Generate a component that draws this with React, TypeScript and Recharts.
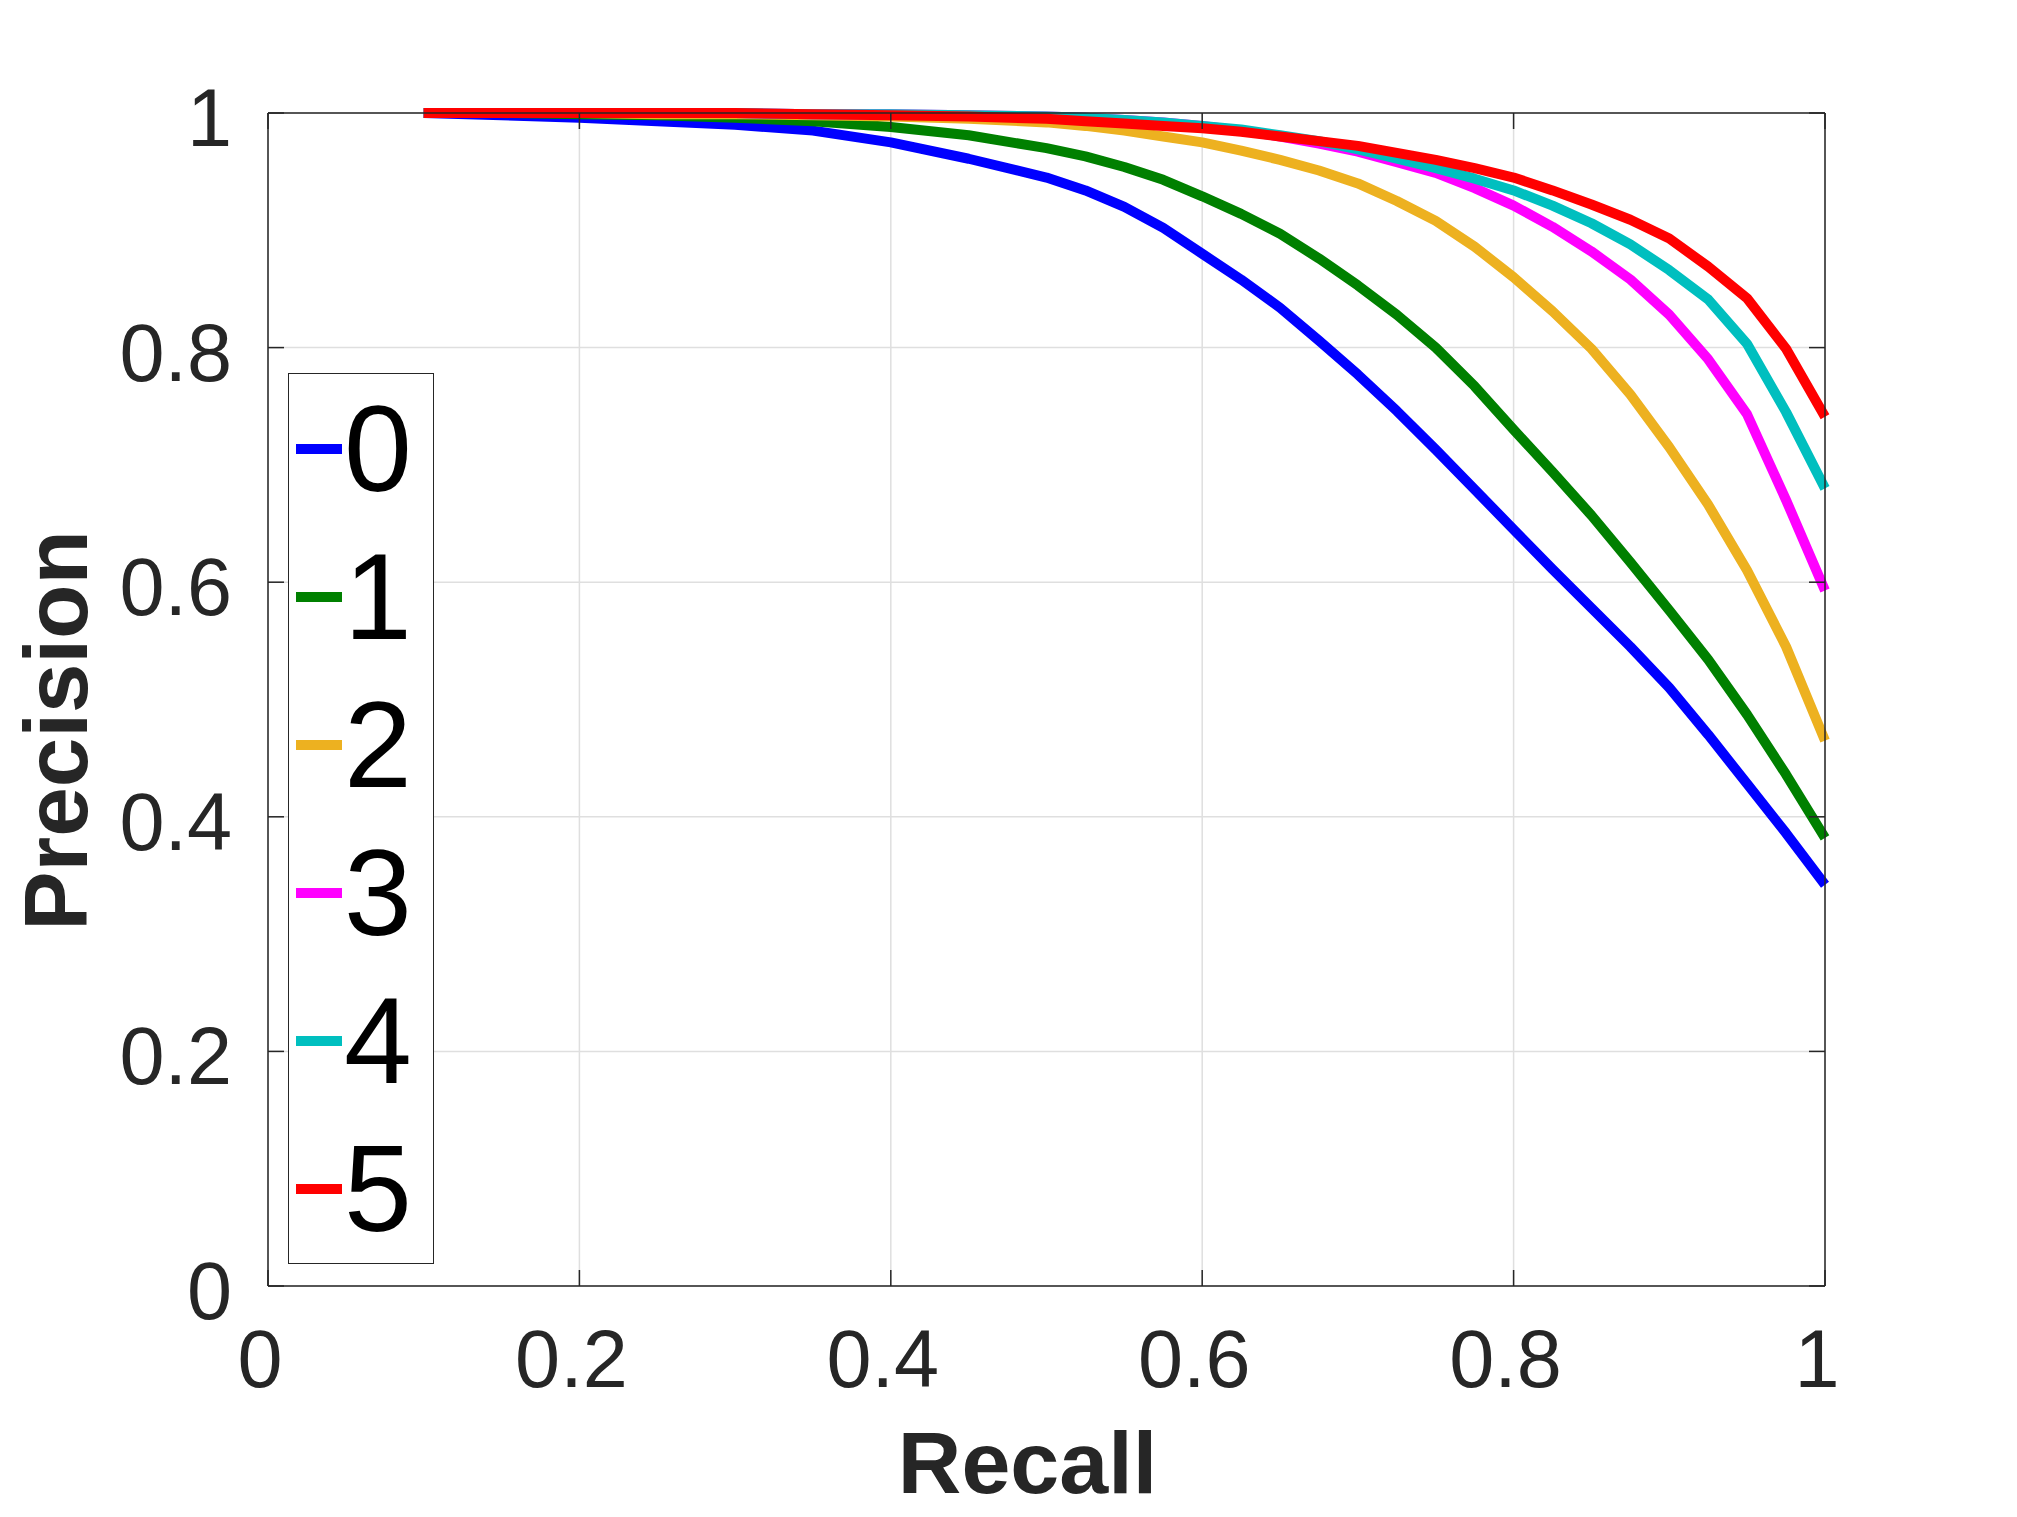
import React from "react";
import { CartesianGrid, Label, Legend, Line, LineChart, XAxis, YAxis } from "recharts";

// precision–recall curves, one per level
const recall = [
  0.1, 0.15, 0.2, 0.25, 0.3, 0.35, 0.4, 0.45, 0.5, 0.525, 0.55, 0.575, 0.6, 0.625, 0.65, 0.675, 0.7, 0.725, 0.75, 0.775,
  0.8, 0.825, 0.85, 0.875, 0.9, 0.925, 0.95, 0.975, 1.0,
];
const precision0 = [
  1.0, 0.998, 0.996, 0.993, 0.99, 0.985, 0.975, 0.961, 0.945, 0.934, 0.92, 0.902, 0.88, 0.858, 0.834, 0.806, 0.777, 0.746,
  0.713, 0.679, 0.645, 0.611, 0.578, 0.545, 0.51, 0.47, 0.428, 0.386, 0.342,
];
const precision1 = [
  1.0, 1.0, 0.999, 0.998, 0.996, 0.993, 0.988, 0.981, 0.97, 0.963, 0.954, 0.943, 0.929, 0.914, 0.897, 0.876, 0.853, 0.828,
  0.8, 0.767, 0.73, 0.694, 0.657, 0.617, 0.576, 0.534, 0.487, 0.436, 0.382,
];
const precision2 = [
  1.0, 1.0, 1.0, 0.999, 0.999, 0.998, 0.997, 0.995, 0.992, 0.989, 0.985, 0.98, 0.975, 0.968, 0.96, 0.951, 0.94, 0.925,
  0.908, 0.886, 0.86, 0.831, 0.799, 0.76, 0.715, 0.666, 0.61, 0.545, 0.465,
];
const precision3 = [
  1.0, 1.0, 1.0, 1.0, 1.0, 0.999, 0.999, 0.998, 0.997, 0.996, 0.994, 0.992, 0.989, 0.985, 0.98, 0.974, 0.967, 0.958,
  0.949, 0.936, 0.921, 0.903, 0.882, 0.858, 0.828, 0.79, 0.743, 0.67, 0.593,
];
const precision4 = [
  1.0, 1.0, 1.0, 1.0, 1.0, 0.999, 0.999, 0.998, 0.997, 0.996, 0.994, 0.992, 0.989, 0.986, 0.981, 0.976, 0.969, 0.961,
  0.953, 0.944, 0.934, 0.921, 0.906, 0.888, 0.866, 0.841, 0.803, 0.745, 0.68,
];
const precision5 = [
  1.0, 1.0, 1.0, 1.0, 1.0, 0.999, 0.998, 0.997, 0.995, 0.993, 0.991, 0.989, 0.987, 0.984, 0.98, 0.976, 0.972, 0.966,
  0.96, 0.953, 0.945, 0.934, 0.922, 0.909, 0.893, 0.869, 0.842, 0.799, 0.741,
];

const seriesNames = ["0", "1", "2", "3", "4", "5"];
const seriesColors = ["#0000FF", "#008000", "#EDB120", "#FF00FF", "#00BFBF", "#FF0000"];
const axisTicks = [0, 0.2, 0.4, 0.6, 0.8, 1];

const allPrecision = [precision0, precision1, precision2, precision3, precision4, precision5];
const rows = recall.map((r, i) => {
  const row: Record<string, number> = { recall: r };
  allPrecision.forEach((p, k) => {
    row[`p${k}`] = p[i];
  });
  return row;
});

const FONT = '"Liberation Sans", Arial, Helvetica, sans-serif';
const AXIS = "#262626";
const TICK_LEN = 16;

type Side = "left" | "right" | "top" | "bottom";

// inward tick marks on every side, labels only on left/bottom
function makeTick(side: Side, withLabel: boolean) {
  return (props: any) => {
    const { x, y, payload } = props;
    let x2 = x;
    let y2 = y;
    if (side === "left") x2 = x + TICK_LEN;
    if (side === "right") x2 = x - TICK_LEN;
    if (side === "bottom") y2 = y - TICK_LEN;
    if (side === "top") y2 = y + TICK_LEN;
    const label = String(payload.value);
    return (
      <g>
        <line x1={x} y1={y} x2={x2} y2={y2} stroke={AXIS} strokeWidth={1.5} />
        {withLabel && side === "left" && (
          <text x={x - 36} y={y + 33} textAnchor="end" fontSize={81} fill={AXIS} fontFamily={FONT}>
            {label}
          </text>
        )}
        {withLabel && side === "bottom" && (
          <text x={x - 8} y={y + 101} textAnchor="middle" fontSize={81} fill={AXIS} fontFamily={FONT}>
            {label}
          </text>
        )}
      </g>
    );
  };
}

function LegendBox(props: any) {
  const items = [...(props.payload || [])].sort((a: any, b: any) => String(a.value).localeCompare(String(b.value)));
  return (
    <div
      style={{
        width: 146,
        height: 891,
        boxSizing: "border-box",
        border: `1.5px solid ${AXIS}`,
        background: "#fff",
        paddingTop: 1,
        fontFamily: FONT,
      }}
    >
      {items.map((item: any) => (
        <div key={item.value} style={{ height: 148, display: "flex", alignItems: "center" }}>
          <div style={{ marginLeft: 7, width: 46, height: 10, background: item.color }} />
          <span style={{ marginLeft: 2, fontSize: 122, lineHeight: 1, color: "#000" }}>{item.value}</span>
        </div>
      ))}
    </div>
  );
}

export default function App() {
  return (
    <div style={{ position: "relative", width: 2000, height: 1500, fontFamily: FONT }}>
      <LineChart width={2000} height={1500} data={rows} margin={{ top: 0, right: 0, bottom: 0, left: 0 }}>
        <CartesianGrid stroke="#dfdfdf" strokeWidth={1.5} />
        <XAxis
          type="number"
          dataKey="recall"
          domain={[0, 1]}
          ticks={axisTicks}
          height={222}
          tickSize={0}
          tickMargin={0}
          axisLine={{ stroke: AXIS, strokeWidth: 1.5 }}
          tickLine={false}
          tick={makeTick("bottom", true)}
          interval={0}
        >
          <Label
            content={({ viewBox }: any) => (
              <text
                x={viewBox.x + viewBox.width / 2 - 19}
                y={viewBox.y + 207}
                textAnchor="middle"
                fontSize={88}
                fontWeight="bold"
                fill={AXIS}
                fontFamily={FONT}
              >
                Recall
              </text>
            )}
          />
        </XAxis>
        <XAxis
          xAxisId="top"
          orientation="top"
          type="number"
          dataKey="recall"
          domain={[0, 1]}
          allowDataOverflow
          ticks={axisTicks}
          height={105}
          tickSize={0}
          tickMargin={0}
          axisLine={{ stroke: AXIS, strokeWidth: 1.5 }}
          tickLine={false}
          tick={makeTick("top", false)}
          interval={0}
        />
        <YAxis
          type="number"
          domain={[0, 1]}
          ticks={axisTicks}
          width={260}
          tickSize={0}
          tickMargin={0}
          axisLine={{ stroke: AXIS, strokeWidth: 1.5 }}
          tickLine={false}
          tick={makeTick("left", true)}
          interval={0}
        >
          <Label
            content={({ viewBox }: any) => {
              const lx = viewBox.x + 79;
              const ly = viewBox.y + viewBox.height / 2 + 31;
              return (
                <text
                  x={lx}
                  y={ly}
                  transform={`rotate(-90, ${lx}, ${ly})`}
                  textAnchor="middle"
                  fontSize={89}
                  fontWeight="bold"
                  fill={AXIS}
                  fontFamily={FONT}
                >
                  Precision
                </text>
              );
            }}
          />
        </YAxis>
        <YAxis
          yAxisId="right"
          orientation="right"
          type="number"
          domain={[0, 1]}
          allowDataOverflow
          ticks={axisTicks}
          width={183}
          tickSize={0}
          tickMargin={0}
          axisLine={{ stroke: AXIS, strokeWidth: 1.5 }}
          tickLine={false}
          tick={makeTick("right", false)}
          interval={0}
        />
        <Legend
          layout="horizontal"
          align="center"
          verticalAlign="middle"
          content={<LegendBox />}
          wrapperStyle={{ left: 280, top: 365, width: "auto", height: "auto" }}
        />
        {seriesNames.map((name, k) => (
          <Line
            key={name}
            type="linear"
            dataKey={`p${k}`}
            name={name}
            stroke={seriesColors[k]}
            strokeWidth={10}
            strokeLinejoin="round"
            dot={false}
            activeDot={false}
            isAnimationActive={false}
          />
        ))}
      </LineChart>
    </div>
  );
}
